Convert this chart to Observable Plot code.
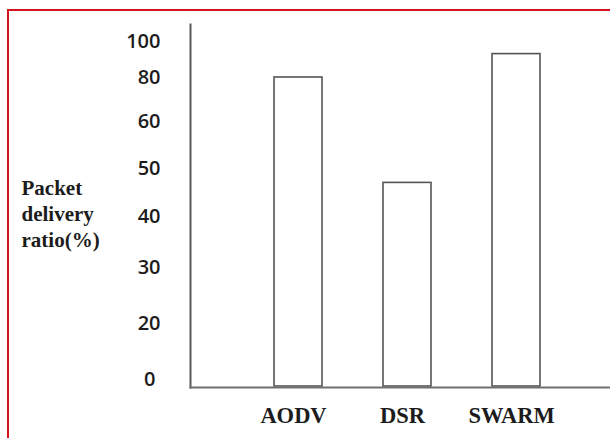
<!DOCTYPE html>
<html>
<head>
<meta charset="utf-8">
<script src="https://cdn.jsdelivr.net/npm/d3@7"></script>
<script src="https://cdn.jsdelivr.net/npm/@observablehq/plot@0.6"></script>
<style>
  html, body { margin: 0; padding: 0; background: #fff; }
  #wrap { position: relative; width: 610px; height: 438px; overflow: hidden; }
  #border { position: absolute; left: 7px; top: 9px; right: -10px; bottom: -10px;
            border-top: 2px solid #d3141c; border-left: 2px solid #d3141c; }
  #chart { position: absolute; left: 0; top: 0; }
</style>
</head>
<body>
<div id="wrap"><div id="border"></div><div id="chart"></div></div>
<script>
const protocols = ["AODV", "DSR", "SWARM"];
const deliveryRatio = [80, 47, 93];
const yTickValues = [0, 20, 30, 40, 50, 60, 80, 100];
const yLabel = "Packet\ndelivery\nratio(%)";

const data = protocols.map((p, i) => ({protocol: p, value: deliveryRatio[i]}));

const sans = "'Open Sans', 'DejaVu Sans', sans-serif";
const serif = "'Liberation Serif', 'Times New Roman', serif";

// the original axis has uneven spacing between its ticks: warp values piecewise
const warp = d3.scaleLinear().domain(yTickValues).range([0, 63.3, 119.3, 170, 218, 265, 309, 345]);

const chart = Plot.plot({
  width: 610,
  height: 438,
  marginLeft: 190,
  marginRight: 0,
  marginTop: 24,
  marginBottom: 51,
  style: {background: "transparent", overflow: "visible"},
  x: {domain: protocols, range: [274, 540], paddingInner: 0.564, paddingOuter: 0, align: 0.5},
  y: {transform: warp, domain: [0, 345], range: [386, 41], axis: null},
  marks: [
    Plot.barY(data, {x: "protocol", y: "value", fill: "white", stroke: "#555", strokeWidth: 1.6}),
    Plot.frame({anchor: "left", stroke: "#5a5a5a", strokeWidth: 2}),
    Plot.frame({anchor: "bottom", stroke: "#707070", strokeWidth: 2}),
    Plot.text(yTickValues.filter(d => d !== 0), {
      y: d => d, text: d => String(d), frameAnchor: "left", textAnchor: "end", dx: -30,
      fontFamily: sans, fontSize: 20, fontWeight: 600, fill: "#1c1c1c"
    }),
    Plot.text([0], {
      y: d => d, text: d => String(d), frameAnchor: "left", textAnchor: "end", dx: -35, dy: -7,
      fontFamily: sans, fontSize: 20, fontWeight: 600, fill: "#1c1c1c"
    }),
    Plot.axisX({
      tickSize: 0, tickPadding: 20, dx: -5,
      fontFamily: serif, fontSize: 22.5, fontWeight: "bold", color: "#1c1c1c", label: null
    }),
    Plot.text([yLabel], {
      frameAnchor: "left", textAnchor: "start", lineAnchor: "middle",
      dx: -169, dy: 6.5, lineHeight: 1.24,
      fontFamily: serif, fontSize: 21, fontWeight: "bold", fill: "#1c1c1c"
    })
  ]
});
document.getElementById("chart").appendChild(chart);
</script>
</body>
</html>
